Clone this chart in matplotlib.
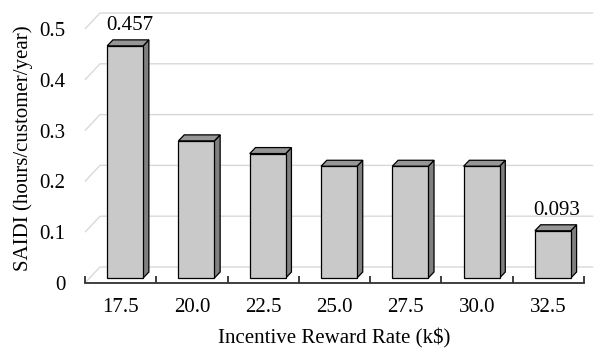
import matplotlib
matplotlib.use("Agg")
import matplotlib.pyplot as plt
from matplotlib.patches import Polygon

plt.rcParams['font.family'] = ['Liberation Serif', 'DejaVu Serif']
plt.rcParams['font.size'] = 15

# data
rates = ['17.5', '20.0', '22.5', '25.0', '27.5', '30.0', '32.5']
saidi = [0.457, 0.27, 0.245, 0.22, 0.22, 0.22, 0.093]
labelled = {0: '0.457', 6: '0.093'}
yticks = [0, 0.1, 0.2, 0.3, 0.4, 0.5]
ytick_labels = ['0', '0.1', '0.2', '0.3', '0.4', '0.5']

# pseudo-3d geometry (category / value units)
bar_w = 0.504
bar_shift = 0.063
bar_base = 0.0098
depth_dx, depth_dy = 0.081, 0.0118
wall_dx, wall_dy = 0.21, 0.0315
grid_end = 7.13

front_col = '#c9c9c9'
side_col = '#7f7f7f'
top_col = '#969696'

fig = plt.figure(figsize=(5.97, 3.52), dpi=100)
ax = fig.add_axes([85 / 597, 69 / 352, 499 / 597, 0.55 * 508 / 352])
ax.set_xlim(0, 7)
ax.set_ylim(0, 0.55)

# back wall gridlines with the diagonal floor/wall edge on the left
for v in yticks:
    ax.plot([0, wall_dx, grid_end], [v, v + wall_dy, v + wall_dy],
            color='#d9d9d9', lw=1.0, zorder=1, clip_on=False,
            solid_capstyle='butt')

# 3d columns
for i, val in enumerate(saidi):
    x0 = i + 0.5 + bar_shift - bar_w / 2
    x1 = x0 + bar_w
    y0 = bar_base
    y1 = bar_base + val
    front = Polygon([(x0, y0), (x1, y0), (x1, y1), (x0, y1)], closed=True,
                    facecolor=front_col, edgecolor='black', lw=0.9, zorder=3,
                    clip_on=False, joinstyle='miter')
    side = Polygon([(x1, y0), (x1 + depth_dx, y0 + depth_dy),
                    (x1 + depth_dx, y1 + depth_dy), (x1, y1)], closed=True,
                   facecolor=side_col, edgecolor='black', lw=0.9, zorder=2,
                   clip_on=False, joinstyle='miter')
    top = Polygon([(x0, y1), (x1, y1), (x1 + depth_dx, y1 + depth_dy),
                   (x0 + depth_dx, y1 + depth_dy)], closed=True,
                  facecolor=top_col, edgecolor='black', lw=0.9, zorder=2,
                  clip_on=False, joinstyle='miter')
    ax.add_patch(side)
    ax.add_patch(top)
    ax.add_patch(front)
    if i in labelled:
        ax.text((x0 + x1) / 2 + depth_dx / 2 + 0.02, y1 + depth_dy + 0.01,
                labelled[i], ha='center', va='bottom', zorder=4)

for s in ['left', 'right', 'top']:
    ax.spines[s].set_visible(False)
ax.spines['bottom'].set_color('#303030')
ax.spines['bottom'].set_linewidth(1.3)

ax.set_yticks(yticks)
ax.set_yticklabels(ytick_labels)
ax.tick_params(axis='y', length=0, pad=14)

ax.set_xticks([i + 0.5 for i in range(len(rates))])
ax.set_xticklabels(rates)
ax.set_xticks(range(len(rates) + 1), minor=True)
ax.tick_params(axis='x', which='major', length=0, pad=11)
ax.tick_params(axis='x', which='minor', direction='in', length=5,
               width=1.3, color='#303030')

fig.text(23 / 597, 1 - 148 / 352, 'SAIDI (hours/customer/year)',
         rotation=90, ha='center', va='center')
fig.text(334 / 597, 1 - 338 / 352, 'Incentive Reward Rate (k$)',
         ha='center', va='center')

fig.savefig('out.png', dpi=100)
